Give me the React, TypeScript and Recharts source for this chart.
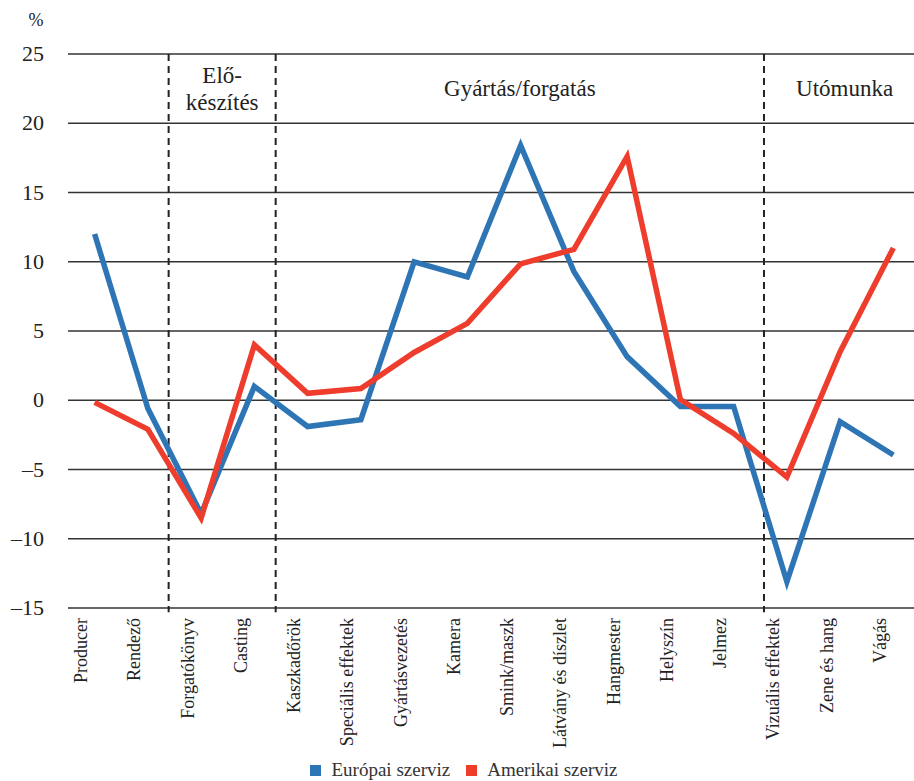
import { LineChart, Line, XAxis, YAxis, CartesianGrid, ReferenceLine, ReferenceArea, Legend } from 'recharts';

const categories = [
  'Producer', 'Rendező', 'Forgatókönyv', 'Casting', 'Kaszkadőrök', 'Speciális effektek',
  'Gyártásvezetés', 'Kamera', 'Smink/maszk', 'Látvány és díszlet', 'Hangmester',
  'Helyszín', 'Jelmez', 'Vizuális effektek', 'Zene és hang', 'Vágás',
];
const europai = [12.0, -0.6, -8.2, 1.0, -1.9, -1.4, 10.0, 8.9, 18.4, 9.3, 3.15, -0.45, -0.45, -13.1, -1.55, -3.95];
const amerikai = [-0.15, -2.1, -8.5, 4.0, 0.5, 0.85, 3.45, 5.55, 9.85, 10.9, 17.6, 0.05, -2.4, -5.55, 3.5, 11.0];
const yTicks = [-15, -10, -5, 0, 5, 10, 15, 20, 25];
const sections = [
  { label: ['Elő-', 'készítés'], from: 1.39, to: 3.4 },
  { label: ['Gyártás/forgatás'], from: 3.4, to: 12.57 },
  { label: ['Utómunka'], from: 12.57, to: 15.6 },
];
const dividers = [1.39, 3.4, 12.57];

const BLUE = '#2E75B6';
const RED = '#EE3D2D';
const FONT = 'Liberation Serif, Times New Roman, serif';
const txt = { fontFamily: FONT };

const data = categories.map((name, i) => ({ idx: i, name, eu: europai[i], us: amerikai[i] }));

function XTick({ x, y, payload }: any) {
  const tx = x - 7.5;
  const ty = y + 2;
  return (
    <text x={tx} y={ty} transform={`rotate(-90 ${tx} ${ty})`} textAnchor="end"
      style={txt} fontSize={18} fill="#222">
      {categories[payload.value]}
    </text>
  );
}

function YTick({ y, payload }: any) {
  const v = payload.value < 0 ? '–' + Math.abs(payload.value) : String(payload.value);
  return (
    <text x={44} y={y} dy={7} textAnchor="end" style={txt} fontSize={22} fill="#222">{v}</text>
  );
}

function SectionLabel({ viewBox, lines }: any) {
  const cx = viewBox.x + viewBox.width / 2;
  const top = viewBox.y;
  if (lines.length > 1) {
    return (
      <text textAnchor="middle" style={txt} fontSize={23} fill="#222">
        <tspan x={cx} y={top + 29}>{lines[0]}</tspan>
        <tspan x={cx} y={top + 56}>{lines[1]}</tspan>
      </text>
    );
  }
  return <text x={cx} y={top + 42} textAnchor="middle" style={txt} fontSize={23} fill="#222">{lines[0]}</text>;
}

function LegendBox() {
  const item = (color: string, text: string) => (
    <span style={{ display: 'inline-flex', alignItems: 'center', margin: '0 8px' }}>
      <span style={{ width: 11, height: 11, background: color, display: 'inline-block', marginRight: 10 }} />
      {text}
    </span>
  );
  return (
    <div style={{ display: 'flex', justifyContent: 'center', paddingTop: 12, lineHeight: '20px', fontFamily: FONT, fontSize: 19, color: '#333', paddingLeft: 8 }}>
      {item(BLUE, 'Európai szerviz')}
      {item(RED, 'Amerikai szerviz')}
    </div>
  );
}

export default function App() {
  return (
    <div style={{ position: 'absolute', left: 0, top: 0, width: 914, height: 781, overflow: 'hidden', background: '#fff' }}>
      <LineChart width={920} height={781} data={data} margin={{ top: 54, right: 0, bottom: 0, left: 0 }}>
        <CartesianGrid vertical={false} stroke="#333" strokeWidth={1.3} />
        <XAxis dataKey="idx" type="number" domain={[-0.5, 15.5]} ticks={categories.map((_, i) => i)}
          interval={0} height={140} axisLine={false} tickLine={false} tick={<XTick />} />
        <YAxis domain={[-15, 25]} ticks={yTicks} width={68} axisLine={false} tickLine={false} tick={<YTick />}
          label={({ viewBox }: any) => (
            <text x={36} y={viewBox.y - 28} textAnchor="middle" style={txt} fontSize={18} fill="#222">%</text>
          )} />
        {sections.map((s, i) => (
          <ReferenceArea key={i} x1={s.from} x2={s.to} y1={-15} y2={25} fill="none" stroke="none" ifOverflow="visible"
            label={(p: any) => <SectionLabel {...p} lines={s.label} />} />
        ))}
        {dividers.map((d) => (
          <ReferenceLine key={d} segment={[{ x: d, y: 25 }, { x: d, y: -15.3 }]} ifOverflow="visible"
            stroke="#222" strokeWidth={2} strokeDasharray="7 5" />
        ))}
        <Legend verticalAlign="bottom" height={33} content={<LegendBox />} />
        <Line type="linear" dataKey="eu" name="Európai szerviz" stroke={BLUE} strokeWidth={5.5} dot={false} isAnimationActive={false} />
        <Line type="linear" dataKey="us" name="Amerikai szerviz" stroke={RED} strokeWidth={5.5} dot={false} isAnimationActive={false} />
      </LineChart>
    </div>
  );
}
